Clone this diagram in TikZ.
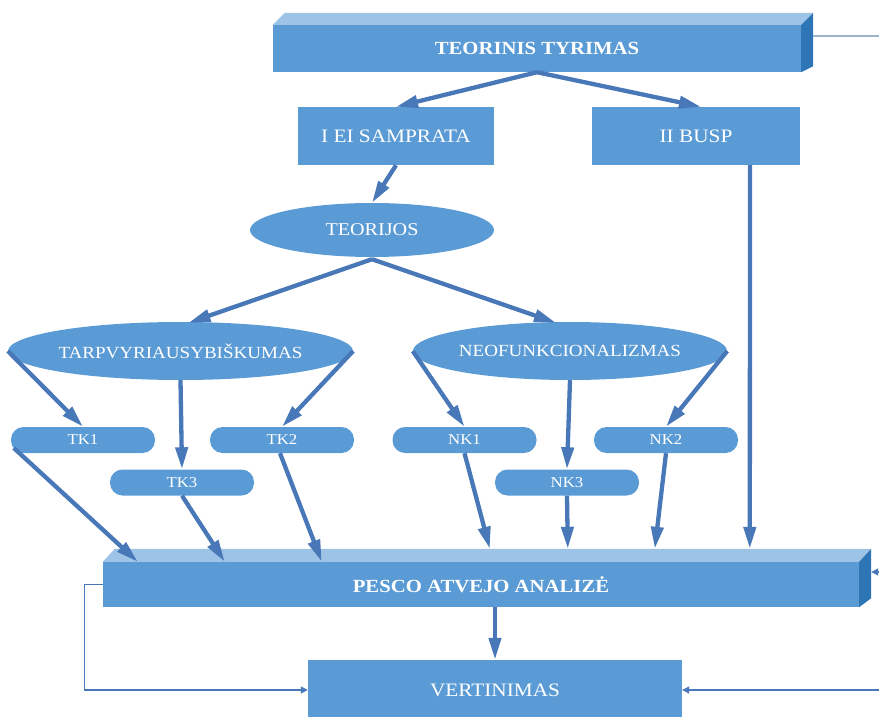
\documentclass[tikz,border=0pt]{standalone}
\usepackage{fontspec}
\setmainfont{Liberation Serif}[FakeStretch=1.12]
\usetikzlibrary{arrows.meta,calc,shapes.geometric}
\definecolor{boxblue}{HTML}{5B9BD5}
\definecolor{topblue}{HTML}{9DC3E6}
\definecolor{sideblue}{HTML}{2E75B6}
\definecolor{arrowblue}{HTML}{4878B8}
\definecolor{lineblue}{HTML}{9DB4CC}
\tikzset{
  box/.style={rectangle, fill=boxblue, draw=none, text=white, inner sep=0pt,
    font=\fontsize{19}{22}\selectfont},
  boldbox/.style={box, font=\bfseries\fontsize{18.5}{22}\selectfont},
  ell/.style={ellipse, fill=boxblue, draw=none, text=white, inner sep=0pt,
    font=\fontsize{17}{20}\selectfont},
  pill/.style={rectangle, rounded corners=12.5pt, fill=boxblue, draw=none, text=white,
    inner sep=0pt, minimum width=144pt, minimum height=26pt,
    font=\fontsize{15}{18}\selectfont},
  big/.style={-{Triangle[length=22pt,width=12pt]}, line width=4.3pt, draw=arrowblue},
  thinline/.style={line width=1.2pt, draw=lineblue},
  thinarrow/.style={thinline, -{Triangle[length=7pt,width=7pt]}, arrowblue},
}
\begin{document}
\begin{tikzpicture}[x=1pt,y=-1pt]
\useasboundingbox (0,0) rectangle (879,717);
% top box
\node[boldbox, minimum width=528pt, minimum height=47pt] (teor) at (537,48.5) {TEORINIS TYRIMAS};
\fill[topblue] (teor.north west) -- ++(12,-12) -- ($(teor.north east)+(12,-12)$) -- (teor.north east) -- cycle;
\fill[sideblue] (teor.north east) -- ++(12,-12) -- ($(teor.south east)+(12,-6)$) -- (teor.south east) -- cycle;
% level 2
\node[box, minimum width=196pt, minimum height=58pt] (iei) at (396,136) {I EI SAMPRATA};
\node[box, minimum width=208pt, minimum height=58pt] (busp) at (696,136) {II BUSP};
\node[ell, minimum width=244pt, minimum height=54pt, font=\fontsize{18}{21}\selectfont] (teorijos) at (372,230) {TEORIJOS};
\node[ell, minimum width=305pt, minimum height=58pt] (tarp) at (180.5,351) {TARPVYRIAUSYBIŠKUMAS};
\node[ell, minimum width=306pt, minimum height=58pt] (neo) at (570,351) {NEOFUNKCIONALIZMAS};
% pills
\node[pill] (tk1) at (83,440) {TK1};
\node[pill] (tk2) at (282,440) {TK2};
\node[pill] (tk3) at (182,482.5) {TK3};
\node[pill] (nk1) at (464.5,440) {NK1};
\node[pill] (nk2) at (666,440) {NK2};
\node[pill] (nk3) at (567,482.5) {NK3};
% pesco
\node[boldbox, minimum width=756pt, minimum height=45pt] (pesco) at (481,584.5) {PESCO ATVEJO ANALIZĖ};
\fill[topblue] (pesco.north west) -- ++(12,-13) -- ($(pesco.north east)+(12,-13)$) -- (pesco.north east) -- cycle;
\fill[sideblue] (pesco.north east) -- ++(12,-13) -- ($(pesco.south east)+(12,-9)$) -- (pesco.south east) -- cycle;
% vertinimas
\node[box, minimum width=374pt, minimum height=60pt] (vert) at (495,690) {VERTINIMAS};
% thick arrows
\draw[big] (teor.south) -- (iei.north);
\draw[big] (teor.south) -- ($(busp.north)+(5,0)$);
\draw[big] (iei.south) -- (teorijos.north);
\draw[big] ($(teorijos.south)+(0,2)$) -- ($(tarp.north)+(8,1)$);
\draw[big] ($(teorijos.south)+(0,2)$) -- ($(neo.north)+(-14,1)$);
\draw[big] (tarp.west) -- (tk1.north);
\draw[big] (tarp.south) -- (tk3.north);
\draw[big] (tarp.east) -- (tk2.north);
\draw[big] (neo.west) -- (nk1.north);
\draw[big] (neo.south) -- (nk3.north);
\draw[big] (neo.east) -- (nk2.north);
\draw[big] ($(tk1.west)+(3,8)$) -- ($(pesco.north west)+(35,0)$);
\draw[big] (tk3.south) -- ($(pesco.north west)+(122,0)$);
\draw[big] ($(tk2.south)+(-2,0)$) -- ($(pesco.north west)+(219,0)$);
\draw[big] (nk1.south) -- ($(pesco.north west)+(387,-13)$);
\draw[big] (nk3.south) -- ($(pesco.north west)+(465,-13)$);
\draw[big] (nk2.south) -- ($(pesco.north west)+(552,-13)$);
\draw[big] ($(busp.south)+(54,0)$) -- ($(pesco.north west)+(647,-13)$);
\draw[big] (vert.north |- pesco.south) -- (vert.north);
% thin lines
\coordinate (r1) at (879,36);
\coordinate (r2) at (879,572);
\coordinate (r3) at (879,690);
\draw[thinline] ($(teor.east)+(12,-12.5)$) -- (r1);
\draw[thinarrow] (r2) -- ($(pesco.east)+(12,-12.5)$);
\draw[thinarrow] (r3) -- (vert.east);
\draw[thinarrow] (pesco.west) -- ++(-18,0) |- (vert.west);
\end{tikzpicture}
\end{document}
